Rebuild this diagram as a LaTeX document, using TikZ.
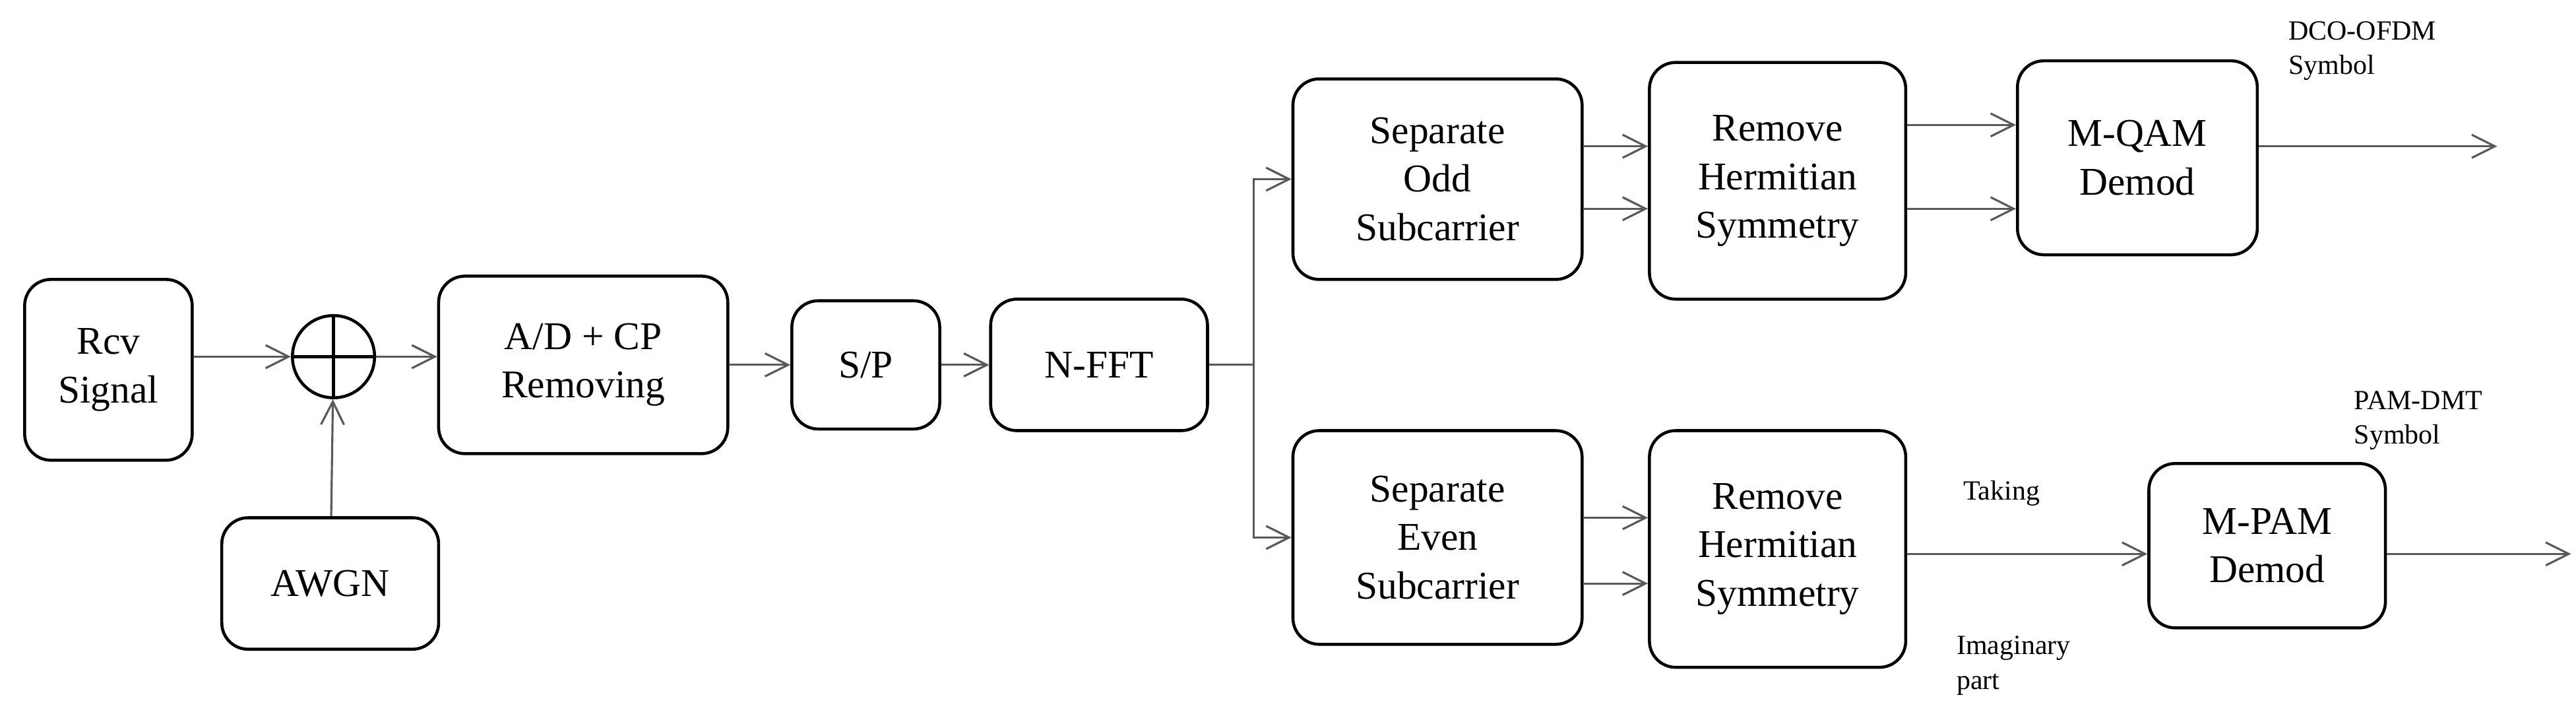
\documentclass[tikz,border=0pt]{standalone}
\usepackage{fontspec}
\setmainfont{Liberation Serif}
\usetikzlibrary{arrows.meta}
\begin{document}
\begin{tikzpicture}[x=0.25mm,y=-0.25mm,
 box/.style={draw=black,line width=1.3pt,rounded corners=4mm,align=center,font=\fontsize{17}{21}\selectfont,inner sep=0pt},
 arr/.style={draw=black!65,line width=0.9pt,-{Straight Barb[length=3.5mm,width=3.5mm]}},
 ln/.style={draw=black!65,line width=0.9pt},
 lbl/.style={font=\fontsize{12}{15}\selectfont,align=left}]
\useasboundingbox (0,0) rectangle (1568,439);
\node[box,minimum width=25.5mm,minimum height=27.5mm] (rcv) at (66,225) {Rcv\\Signal};
\node[draw=black,line width=1.3pt,circle,minimum size=12.5mm,inner sep=0pt,
 path picture={\draw[line width=1.3pt] (path picture bounding box.north) -- (path picture bounding box.south) (path picture bounding box.west) -- (path picture bounding box.east);}] (sum) at (203,217) {};
\node[box,minimum width=33mm,minimum height=20mm] (awgn) at (201,355) {AWGN};
\node[box,minimum width=44mm,minimum height=27mm] (ad) at (355,222) {A/D + CP\\Removing};
\node[box,minimum width=22.5mm,minimum height=19.5mm] (sp) at (527,222) {S/P};
\node[box,minimum width=33mm,minimum height=20mm] (fft) at (669,222) {N-FFT};
\node[box,minimum width=44mm,minimum height=30.5mm] (odd) at (875,109) {Separate\\Odd\\Subcarrier};
\node[box,minimum width=39mm,minimum height=36mm] (rh1) at (1082,110) {Remove\\Hermitian\\Symmetry};
\node[box,minimum width=36.5mm,minimum height=29.5mm] (qam) at (1301,96) {M-QAM\\Demod};
\node[box,minimum width=44mm,minimum height=32.5mm] (even) at (875,327) {Separate\\Even\\Subcarrier};
\node[box,minimum width=39mm,minimum height=36mm] (rh2) at (1082,334) {Remove\\Hermitian\\Symmetry};
\node[box,minimum width=36mm,minimum height=25mm] (pam) at (1380,332) {M-PAM\\Demod};
\coordinate (br) at (763,222);
\coordinate (o1) at (1520,89);
\coordinate (o2) at (1565,337);
\draw[arr] (rcv.east |- 0,217) -- (sum);
\draw[arr] (awgn) -- (sum);
\draw[arr] (sum) -- (ad.west |- 0,217);
\draw[arr] (ad.east |- 0,222) -- (sp);
\draw[arr] (sp) -- (fft);
\draw[ln] (fft.east) -- (br);
\draw[arr] (br) |- (odd.west);
\draw[arr] (br) |- (even.west);
\draw[arr] (odd.east |- 0,89) -- (rh1.west |- 0,89);
\draw[arr] (odd.east |- 0,127) -- (rh1.west |- 0,127);
\draw[arr] (rh1.east |- 0,76) -- (qam.west |- 0,76);
\draw[arr] (rh1.east |- 0,127) -- (qam.west |- 0,127);
\draw[arr] (qam.east |- 0,89) -- (o1);
\draw[arr] (even.east |- 0,315) -- (rh2.west |- 0,315);
\draw[arr] (even.east |- 0,355) -- (rh2.west |- 0,355);
\draw[arr] (rh2.east |- 0,337) -- (pam.west |- 0,337);
\draw[arr] (pam.east |- 0,337) -- (o2);
\node[lbl,anchor=north west] (l1) at (1388,8) {DCO-OFDM\\Symbol};
\node[lbl,anchor=north west] (l2) at (1428,233) {PAM-DMT\\Symbol};
\node[lbl,anchor=west] (l3) at (1190,300) {Taking};
\node[lbl,anchor=north west] (l4) at (1186,382) {Imaginary\\part};
\end{tikzpicture}
\end{document}
